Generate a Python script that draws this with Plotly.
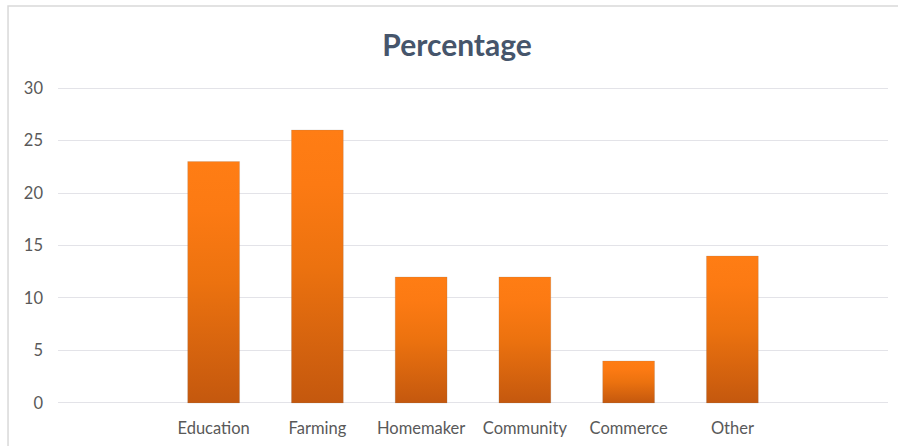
import plotly.graph_objects as go

# Share of respondents by occupation
categories = ["Education", "Farming", "Homemaker", "Community", "Commerce", "Other"]
percentages = [23, 26, 12, 12, 4, 14]
y_ticks = [0, 5, 10, 15, 20, 25, 30]

BAR_WIDTH = 0.5
FONT = "Lato"
TEXT_COLOR = "#595959"

# slot 0 and the last slot stay empty so the bars sit inside the axis
positions = list(range(1, len(categories) + 1))

fig = go.Figure()

for pos, name, val in zip(positions, categories, percentages):
    left, right = pos - BAR_WIDTH / 2, pos + BAR_WIDTH / 2
    fig.add_trace(go.Scatter(
        x=[left, right, right, left, left],
        y=[0, 0, val, val, 0],
        mode="lines",
        fill="toself",
        line=dict(color="rgba(120,120,120,0.18)", width=1),
        fillgradient=dict(
            type="vertical",
            start=0,
            stop=val,
            colorscale=[[0.0, "#C4580E"], [0.5, "#EC720F"], [0.8, "#FC7A13"], [1.0, "#FF7D14"]],
        ),
        name=name,
        hoverinfo="text",
        text=f"{name}: {val}",
        showlegend=False,
    ))

fig.update_layout(
    width=898,
    height=446,
    margin=dict(l=58, r=10, t=87, b=42),
    paper_bgcolor="white",
    plot_bgcolor="white",
    title=dict(
        text="<b>Percentage</b>",
        x=0.509,
        xanchor="center",
        y=0.898,
        yanchor="middle",
        font=dict(family=FONT, size=30, color="#46556B"),
    ),
    xaxis=dict(
        range=[-0.5, len(categories) + 1.5],
        tickmode="array",
        tickvals=positions,
        ticktext=categories,
        showgrid=False,
        zeroline=False,
        showline=False,
        ticks="",
        automargin=False,
        tickfont=dict(family=FONT, size=16.5, color=TEXT_COLOR),
        ticklabelstandoff=12,
    ),
    yaxis=dict(
        range=[-0.1, 30.1],
        tickmode="array",
        tickvals=y_ticks,
        showgrid=True,
        gridcolor="#E3E3E8",
        gridwidth=1,
        zeroline=False,
        showline=False,
        ticks="",
        automargin=False,
        tickfont=dict(family=FONT, size=16.5, color=TEXT_COLOR),
        ticklabelstandoff=14,
    ),
    shapes=[dict(
        type="rect",
        xref="paper", yref="paper",
        x0=-0.0602, x1=1.2, y0=-0.3, y1=1.2556,
        line=dict(color="#D9D9D9", width=1.5),
        fillcolor="rgba(0,0,0,0)",
        layer="below",
    )],
)

fig.write_html("out.html")
